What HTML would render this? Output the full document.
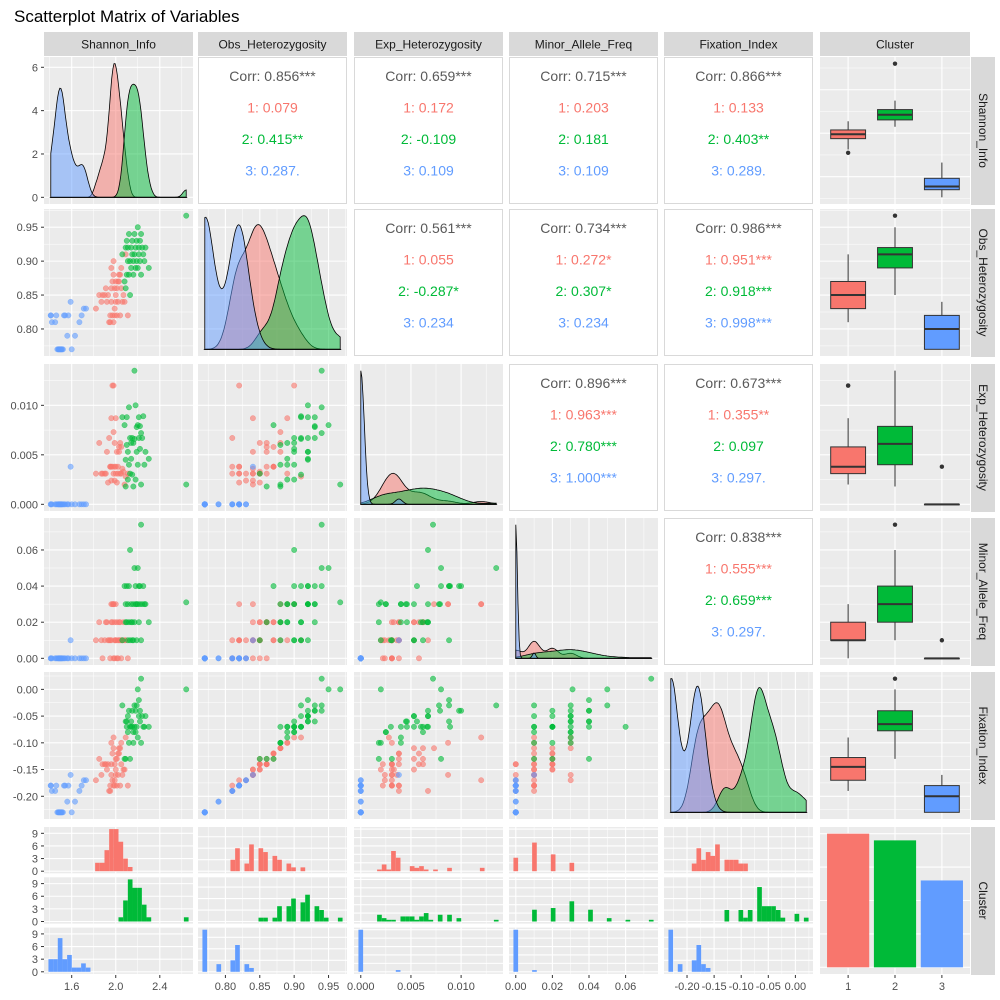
<!DOCTYPE html>
<html><head><meta charset="utf-8"><style>
body{margin:0;background:#fff;}
svg{display:block;font-family:"Liberation Sans",Arial,sans-serif;}
</style></head><body>
<svg id="c" width="1000" height="1000" viewBox="0 0 1000 1000" xmlns="http://www.w3.org/2000/svg">
<text x="14" y="22" font-size="17" fill="#000">Scatterplot Matrix of Variables</text>
</svg>
<script>
const varNames = ["Shannon_Info","Obs_Heterozygosity","Exp_Heterozygosity","Minor_Allele_Freq","Fixation_Index","Cluster"];
const clusterLabels = ["1","2","3"];
const clusterColors = ["#F8766D","#00BA38","#619CFF"];
// rows: [Shannon, Obs, Exp, MAF, Fix]
const cluster1 = [
[1.82,0.83,0.0031,0.01,-0.17],[1.85,0.85,0.0062,0.02,-0.13],[1.87,0.84,0.0031,0.01,-0.16],[1.88,0.85,0.0031,0,-0.14],
[1.90,0.85,0.0031,0.01,-0.14],[1.91,0.86,0.0031,0.02,-0.14],[1.92,0.84,0.0053,0.02,-0.15],[1.93,0.85,0.0022,0.01,-0.14],
[1.94,0.81,0.0067,0.01,-0.19],[1.95,0.82,0.0038,0.01,-0.18],[1.95,0.81,0.0038,0,-0.19],[1.96,0.84,0.0024,0.01,-0.16],
[1.96,0.86,0.0038,0.02,-0.14],[1.96,0.89,0.0087,0.03,-0.10],[1.97,0.82,0.0120,0.03,-0.17],[1.97,0.87,0.0038,0.02,-0.12],
[1.98,0.88,0.0073,0.03,-0.11],[1.98,0.81,0.0031,0,-0.18],[1.98,0.90,0.0120,0.03,-0.09],[1.99,0.82,0.0038,0.01,-0.18],
[1.99,0.83,0.0024,0,-0.17],[1.99,0.86,0.0062,0.02,-0.14],[2.00,0.87,0.0038,0.01,-0.13],[2.00,0.84,0.0087,0.03,-0.16],
[2.00,0.85,0.0031,0.01,-0.15],[2.01,0.82,0.0022,0,-0.18],[2.01,0.86,0.0053,0.02,-0.13],[2.02,0.87,0.0038,0.01,-0.12],
[2.02,0.84,0.0031,0,-0.16],[2.03,0.88,0.0053,0.01,-0.11],[2.03,0.87,0.0058,0.02,-0.12],[2.04,0.82,0.0031,0.01,-0.18],
[2.04,0.88,0.0062,0.02,-0.11],[2.05,0.86,0.0058,0,-0.14],[2.05,0.89,0.0031,0.01,-0.10],[2.06,0.84,0.0036,0.01,-0.16],
[2.07,0.85,0.0033,0.02,-0.15],[2.08,0.84,0.0020,0.01,-0.15],[2.09,0.91,0.0028,0.01,-0.09],[2.11,0.82,0.0031,0,-0.18]];
const cluster2 = [
[2.06,0.91,0.0088,0.01,-0.03],[2.08,0.87,0.0080,0.04,-0.13],[2.09,0.86,0.0018,0.02,-0.13],[2.09,0.92,0.0045,0.03,-0.06],
[2.10,0.88,0.0060,0.02,-0.07],[2.10,0.93,0.0088,0.04,-0.06],[2.11,0.90,0.0025,0.03,-0.08],[2.11,0.92,0.0053,0.01,-0.05],
[2.12,0.94,0.0098,0.04,-0.04],[2.12,0.88,0.0040,0.02,-0.10],[2.13,0.90,0.0067,0.06,-0.07],[2.13,0.85,0.0031,0.01,-0.13],
[2.14,0.89,0.0062,0.02,-0.07],[2.14,0.92,0.0046,0.03,-0.06],[2.15,0.91,0.0030,0.01,-0.07],[2.15,0.93,0.0067,0.02,-0.04],
[2.16,0.90,0.0062,0.01,-0.08],[2.16,0.88,0.0018,0.03,-0.10],[2.17,0.94,0.0135,0.05,-0.03],[2.17,0.91,0.0066,0.02,-0.07],
[2.18,0.89,0.0025,0.03,-0.08],[2.18,0.92,0.0100,0.04,-0.04],[2.19,0.93,0.0078,0.03,-0.03],[2.19,0.90,0.0053,0.01,-0.07],
[2.20,0.95,0.0080,0.05,0.00],[2.20,0.89,0.0040,0.03,-0.09],[2.21,0.92,0.0088,0.04,-0.02],[2.21,0.91,0.0067,0.02,-0.05],
[2.22,0.93,0.0079,0.03,-0.04],[2.22,0.90,0.0056,0.04,-0.06],[2.23,0.94,0.0072,0.074,0.02],[2.23,0.88,0.0020,0.01,-0.10],
[2.24,0.92,0.0067,0.03,-0.05],[2.25,0.91,0.0089,0.04,-0.07],[2.26,0.90,0.0040,0.03,-0.07],[2.27,0.92,0.0053,0.03,-0.05],
[2.30,0.89,0.0046,0.02,-0.07],[2.64,0.967,0.0020,0.031,0.00]];
const cluster3 = [
[1.41,0.82,0,0,-0.18],[1.41,0.82,0,0,-0.18],[1.42,0.81,0,0,-0.19],[1.45,0.81,0,0,-0.19],[1.46,0.82,0,0,-0.18],
[1.47,0.77,0,0,-0.23],[1.48,0.77,0,0,-0.23],[1.48,0.77,0,0,-0.23],[1.49,0.77,0,0,-0.23],[1.49,0.77,0,0,-0.23],
[1.50,0.77,0,0,-0.23],[1.50,0.77,0,0,-0.23],[1.51,0.77,0,0,-0.23],[1.51,0.77,0,0,-0.23],[1.52,0.77,0,0,-0.23],
[1.53,0.82,0,0,-0.18],[1.54,0.82,0,0,-0.18],[1.56,0.79,0,0,-0.21],[1.57,0.82,0,0,-0.18],[1.59,0.84,0.0038,0.01,-0.16],
[1.60,0.77,0,0,-0.23],[1.63,0.79,0,0,-0.21],[1.67,0.81,0,0,-0.19],[1.69,0.82,0,0,-0.18],[1.71,0.83,0,0,-0.17],[1.73,0.83,0,0,-0.17]];
const corrOverall = {"0-1":"0.856***","0-2":"0.659***","0-3":"0.715***","0-4":"0.866***","1-2":"0.561***","1-3":"0.734***","1-4":"0.986***","2-3":"0.896***","2-4":"0.673***","3-4":"0.838***"};
const corrC1 = {"0-1":"0.079","0-2":"0.172","0-3":"0.203","0-4":"0.133","1-2":"0.055","1-3":"0.272*","1-4":"0.951***","2-3":"0.963***","2-4":"0.355**","3-4":"0.555***"};
const corrC2 = {"0-1":"0.415**","0-2":"-0.109","0-3":"0.181","0-4":"0.403**","1-2":"-0.287*","1-3":"0.307*","1-4":"0.918***","2-3":"0.780***","2-4":"0.097","3-4":"0.659***"};
const corrC3 = {"0-1":"0.287.","0-2":"0.109","0-3":"0.109","0-4":"0.289.","1-2":"0.234","1-3":"0.234","1-4":"0.998***","2-3":"1.000***","2-4":"0.297.","3-4":"0.297."};
const ticks = [[1.6,2.0,2.4],[0.80,0.85,0.90,0.95],[0.000,0.005,0.010],[0.00,0.02,0.04,0.06],[-0.25,-0.20,-0.15,-0.10,-0.05,0.00]];
const tickDigits = [1,2,3,2,2];

const clusters=[cluster1,cluster2,cluster3];
const svg=document.getElementById('c');
const NS="http://www.w3.org/2000/svg";
function mk(tag,attrs,parent){const e=document.createElementNS(NS,tag);for(const k in attrs)e.setAttribute(k,attrs[k]);(parent||svg).appendChild(e);return e;}
const colX=[44,198,354,509,664,820], rowY=[57,209,364,518,672,827], PW=149, PH=147;
const all=[].concat(cluster1,cluster2,cluster3);
const doms=[0,1,2,3,4].map(v=>{const vals=all.map(p=>p[v]);const mn=Math.min(...vals),mx=Math.max(...vals),pad=(mx-mn)*0.05;return [mn-pad,mx+pad];});
function sx(v,col,val){const d=doms[v];return colX[col]+(val-d[0])/(d[1]-d[0])*PW;}
function sy(v,row,val){const d=doms[v];return rowY[row]+PH-(val-d[0])/(d[1]-d[0])*PH;}
function lin(d0,d1,r0,r1){return x=>r0+(x-d0)/(d1-d0)*(r1-r0);}

function panelBg(x,y,w,h,name){const r=mk('rect',{x:x,y:y,width:w,height:h,fill:'#EBEBEB'});}
function gridV(xs,y,h,wd){xs.forEach(x=>mk('line',{x1:x,x2:x,y1:y,y2:y+h,stroke:'#fff','stroke-width':wd}));}
function gridH(ys,x,w,wd){ys.forEach(y=>mk('line',{x1:x,x2:x+w,y1:y,y2:y,stroke:'#fff','stroke-width':wd}));}
function tickVals(v){return ticks[v].filter(t=>t>=doms[v][0]&&t<=doms[v][1]);}
function minorOf(arr){const m=[];for(let i=0;i<arr.length-1;i++)m.push((arr[i]+arr[i+1])/2);if(arr.length>1){const s=arr[1]-arr[0];m.push(arr[0]-s/2,arr[arr.length-1]+s/2);}return m;}
function xGrid(v,col,y,h){const t=tickVals(v);const mn=minorOf(t).filter(a=>a>=doms[v][0]&&a<=doms[v][1]);gridV(mn.map(a=>sx(v,col,a)),y,h,0.5);gridV(t.map(a=>sx(v,col,a)),y,h,1.1);}
function yGrid(v,row){const t=tickVals(v);const mn=minorOf(t).filter(a=>a>=doms[v][0]&&a<=doms[v][1]);gridH(mn.map(a=>sy(v,row,a)),colX[0],0,0);}

// KDE
function kde(vals,bw,x){let s=0;for(const v of vals){const z=(x-v)/bw;s+=Math.exp(-0.5*z*z);}return s/(vals.length*bw*Math.sqrt(2*Math.PI));}
function quant(a,p){const s=[...a].sort((x,y)=>x-y);const h=(s.length-1)*p;const lo=Math.floor(h);return s[lo]+(h-lo)*((s[Math.min(lo+1,s.length-1)])-s[lo]);}
function bwOf(vals){const n=vals.length;const m=vals.reduce((a,b)=>a+b,0)/n;const sd=Math.sqrt(vals.reduce((a,b)=>a+(b-m)*(b-m),0)/(n-1));const iqr=quant(vals,0.75)-quant(vals,0.25);let lo=Math.min(sd,iqr/1.34);if(!(lo>0))lo=sd||1e-4;return 0.9*lo*Math.pow(n,-0.2);}

// strips
for(let c=0;c<6;c++){const r=mk('rect',{x:colX[c],y:32,width:c==5?150:PW,height:24,fill:'#D9D9D9'});
 const t=mk('text',{x:colX[c]+(c==5?75:PW/2),y:48.5,'font-size':12,'text-anchor':'middle',fill:'#1A1A1A'});t.textContent=varNames[c];}
for(let r=0;r<6;r++){const re=mk('rect',{x:971,y:rowY[r],width:24,height:PH+1,fill:'#D9D9D9'});
 const cy=rowY[r]+PH/2;const t=mk('text',{x:979,y:cy,'font-size':12,'text-anchor':'middle',fill:'#1A1A1A',transform:'rotate(90 979 '+cy+')'});t.setAttribute('dy','0');t.textContent=varNames[r];}

for(let r=0;r<6;r++)for(let c=0;c<6;c++){
 const x0=colX[c],y0=rowY[r],w=(c==5?150:PW);
 if(r<5&&c<5&&c>r){
  // correlation panel
  const b=mk('rect',{x:x0+0.5,y:y0+0.5,width:w-1,height:PH-1,fill:'#fff',stroke:'#D9D9D9'});
  const key=r+'-'+c;const lines=[["Corr: "+corrOverall[key],'#595959'],["1: "+corrC1[key],clusterColors[0]],["2: "+corrC2[key],clusterColors[1]],["3: "+corrC3[key],clusterColors[2]]];
  lines.forEach((l,i)=>{const t=mk('text',{x:x0+w/2,y:y0+24+i*31.5,'font-size':14,'text-anchor':'middle',fill:l[1]});t.textContent=l[0];});
  continue;}
 if(r<5&&c<5&&c<r){
  panelBg(x0,y0,w,PH,'scatter-panel-'+r+'-'+c);
  const ty=tickVals(r);const mny=minorOf(ty).filter(a=>a>=doms[r][0]&&a<=doms[r][1]);
  gridH(mny.map(a=>sy(r,r,a)),x0,w,0.5);gridH(ty.map(a=>sy(r,r,a)),x0,w,1.1);xGrid(c,c,y0,PH);
  clusters.forEach((cl,k)=>cl.forEach(p=>{const d=mk('circle',{cx:sx(c,c,p[c]),cy:sy(r,r,p[r]),r:2.7,fill:clusterColors[k],'fill-opacity':0.6,stroke:clusterColors[k],'stroke-opacity':0.6,'stroke-width':0.5});}));
  continue;}
 if(r==c&&r<5){
  panelBg(x0,y0,w,PH,'density-panel-'+r);
  xGrid(c,c,y0,PH);
  const d=doms[c];const n=120;const curves=clusters.map(cl=>{const vals=cl.map(p=>p[c]);const bw=bwOf(vals);const mn=Math.min(...all.map(p=>p[c])),mx=Math.max(...all.map(p=>p[c]));const pts=[];for(let i=0;i<=n;i++){const xv=mn+(mx-mn)*i/n;pts.push([xv,kde(vals,bw,xv)]);}return pts;});
  let ymax=0;curves.forEach(cv=>cv.forEach(p=>ymax=Math.max(ymax,p[1])));
  const yd=[-ymax*0.05,ymax*1.05];const yS=lin(yd[0],yd[1],y0+PH,y0);
  if(r==0){const st=ymax>6?2:1;const tv=[];for(let v=0;v<=ymax;v+=st)tv.push(v);gridH(tv.map(yS),x0,w,1.1);
   tv.forEach(v=>{const t=mk('text',{x:38,y:yS(v)+4,'font-size':11,'text-anchor':'end',fill:'#4D4D4D'});t.textContent=v;mk('line',{x1:41,x2:44,y1:yS(v),y2:yS(v),stroke:'#333'});});}
  else{gridH(tickVals(r).map(a=>sy(r,r,a)),x0,w,1.1);}
  curves.forEach((cv,k)=>{let dstr='M'+sx(c,c,cv[0][0])+','+yS(0);cv.forEach(p=>dstr+=' L'+sx(c,c,p[0]).toFixed(1)+','+yS(p[1]).toFixed(1));dstr+=' L'+sx(c,c,cv[cv.length-1][0])+','+yS(0)+'Z';
   const pa=mk('path',{d:dstr,fill:clusterColors[k],'fill-opacity':0.5,stroke:'#000','stroke-width':0.8});});
  continue;}
 if(c==5&&r<5){
  panelBg(x0,y0,w,PH,'boxplot-panel-'+r);
  const xs=lin(0.4,3.6,x0,x0+w);
  const ty=tickVals(r);gridH(minorOf(ty).filter(a=>a>=doms[r][0]&&a<=doms[r][1]).map(a=>sy(r,r,a)),x0,w,0.5);gridH(ty.map(a=>sy(r,r,a)),x0,w,1.1);gridV([1,2,3].map(xs),y0,PH,1.1);
  clusters.forEach((cl,k)=>{const vals=cl.map(p=>p[r]);const q1=quant(vals,0.25),q2=quant(vals,0.5),q3=quant(vals,0.75),iq=q3-q1;
   const inr=vals.filter(v=>v>=q1-1.5*iq&&v<=q3+1.5*iq);const lo=Math.min(...inr),hi=Math.max(...inr);const cx=xs(k+1),bw=0.75*46.5/2;
   const g=mk('g',{});
   mk('line',{x1:cx,x2:cx,y1:sy(r,r,hi),y2:sy(r,r,lo),stroke:'#333','stroke-width':1},g);
   mk('rect',{x:cx-bw,y:sy(r,r,q3),width:2*bw,height:Math.max(0.5,sy(r,r,q1)-sy(r,r,q3)),fill:clusterColors[k],stroke:'#333','stroke-width':1},g);
   mk('line',{x1:cx-bw,x2:cx+bw,y1:sy(r,r,q2),y2:sy(r,r,q2),stroke:'#333','stroke-width':2},g);
   vals.filter(v=>v<lo||v>hi).forEach(v=>mk('circle',{cx:cx,cy:sy(r,r,v),r:2.2,fill:'#333'},g));});
  continue;}
 if(r==5&&c<5){
  // 3 histograms stacked
  const subH=46.3,gap=4;
  const mn=Math.min(...all.map(p=>p[c])),mx=Math.max(...all.map(p=>p[c]));const nb=30,bwid=(mx-mn)/(nb-1);
  const counts=clusters.map(cl=>{const a=new Array(nb).fill(0);cl.forEach(p=>{a[Math.min(nb-1,Math.round((p[c]-mn)/bwid))]++;});return a;});
  let cmax=0;counts.forEach(a=>a.forEach(v=>cmax=Math.max(cmax,v)));
  for(let k=0;k<3;k++){const sy0=y0+k*(subH+gap);panelBg(x0,sy0,w,subH,'histogram-panel-'+c+'-cluster-'+(k+1));
   xGrid(c,c,sy0,subH);const yS=lin(-cmax*0.05,cmax*1.05,sy0+subH,sy0);const step=cmax>12?5:(cmax>6?3:2);const tv=[];for(let v=0;v<=cmax;v+=step)tv.push(v);
   gridH(tv.map(yS),x0,w,1.1);
   if(c==0)tv.forEach(v=>{const t=mk('text',{x:38,y:yS(v)+4,'font-size':11,'text-anchor':'end',fill:'#4D4D4D'});t.textContent=v;mk('line',{x1:41,x2:44,y1:yS(v),y2:yS(v),stroke:'#333'});});
   counts[k].forEach((v,i)=>{if(!v)return;const xc=mn+i*bwid;const xa=sx(c,c,xc-bwid/2),xb=sx(c,c,xc+bwid/2);const b=mk('rect',{x:xa,y:yS(v),width:xb-xa,height:yS(0)-yS(v),fill:clusterColors[k]});});}
  continue;}
 if(r==5&&c==5){
  panelBg(x0,y0,w,PH,'cluster-bar-panel');const xs=lin(0.4,3.6,x0,x0+w);
  const cnts=clusters.map(cl=>cl.length);const cm=Math.max(...cnts);const yS=lin(-cm*0.05,cm*1.05,y0+PH,y0);
  gridV([1,2,3].map(xs),y0,PH,1.1);const tv=[0,10,20,30,40].filter(v=>v<=cm);gridH(tv.map(yS),x0,w,1.1);
  cnts.forEach((v,k)=>{const b=mk('rect',{x:xs(k+1-0.45),y:yS(v),width:xs(1.45)-xs(0.55),height:yS(0)-yS(v),fill:clusterColors[k]});});
 }
}
// y axis labels rows 1-4 (variables)
for(let r=1;r<5;r++){tickVals(r).forEach(v=>{const y=sy(r,r,v);const t=mk('text',{x:38,y:y+4,'font-size':11,'text-anchor':'end',fill:'#4D4D4D'});t.textContent=v.toFixed(tickDigits[r]);mk('line',{x1:41,x2:44,y1:y,y2:y,stroke:'#333'});});}
// x axis labels
for(let c=0;c<5;c++){ticks[c].forEach(v=>{if(v<doms[c][0]-0.02*(doms[c][1]-doms[c][0]))return;const x=Math.max(sx(c,c,v),colX[c]+4);const t=mk('text',{x:x,y:990,'font-size':11,'text-anchor':'middle',fill:'#4D4D4D'});t.textContent=v.toFixed(tickDigits[c]);mk('line',{x1:sx(c,c,v),x2:sx(c,c,v),y1:975,y2:978,stroke:'#333'});});}
{const xs=lin(0.4,3.6,820,970);clusterLabels.forEach((l,k)=>{const t=mk('text',{x:xs(k+1),y:990,'font-size':11,'text-anchor':'middle',fill:'#4D4D4D'});t.textContent=l;mk('line',{x1:xs(k+1),x2:xs(k+1),y1:975,y2:978,stroke:'#333'});});}
</script>
</body></html>
